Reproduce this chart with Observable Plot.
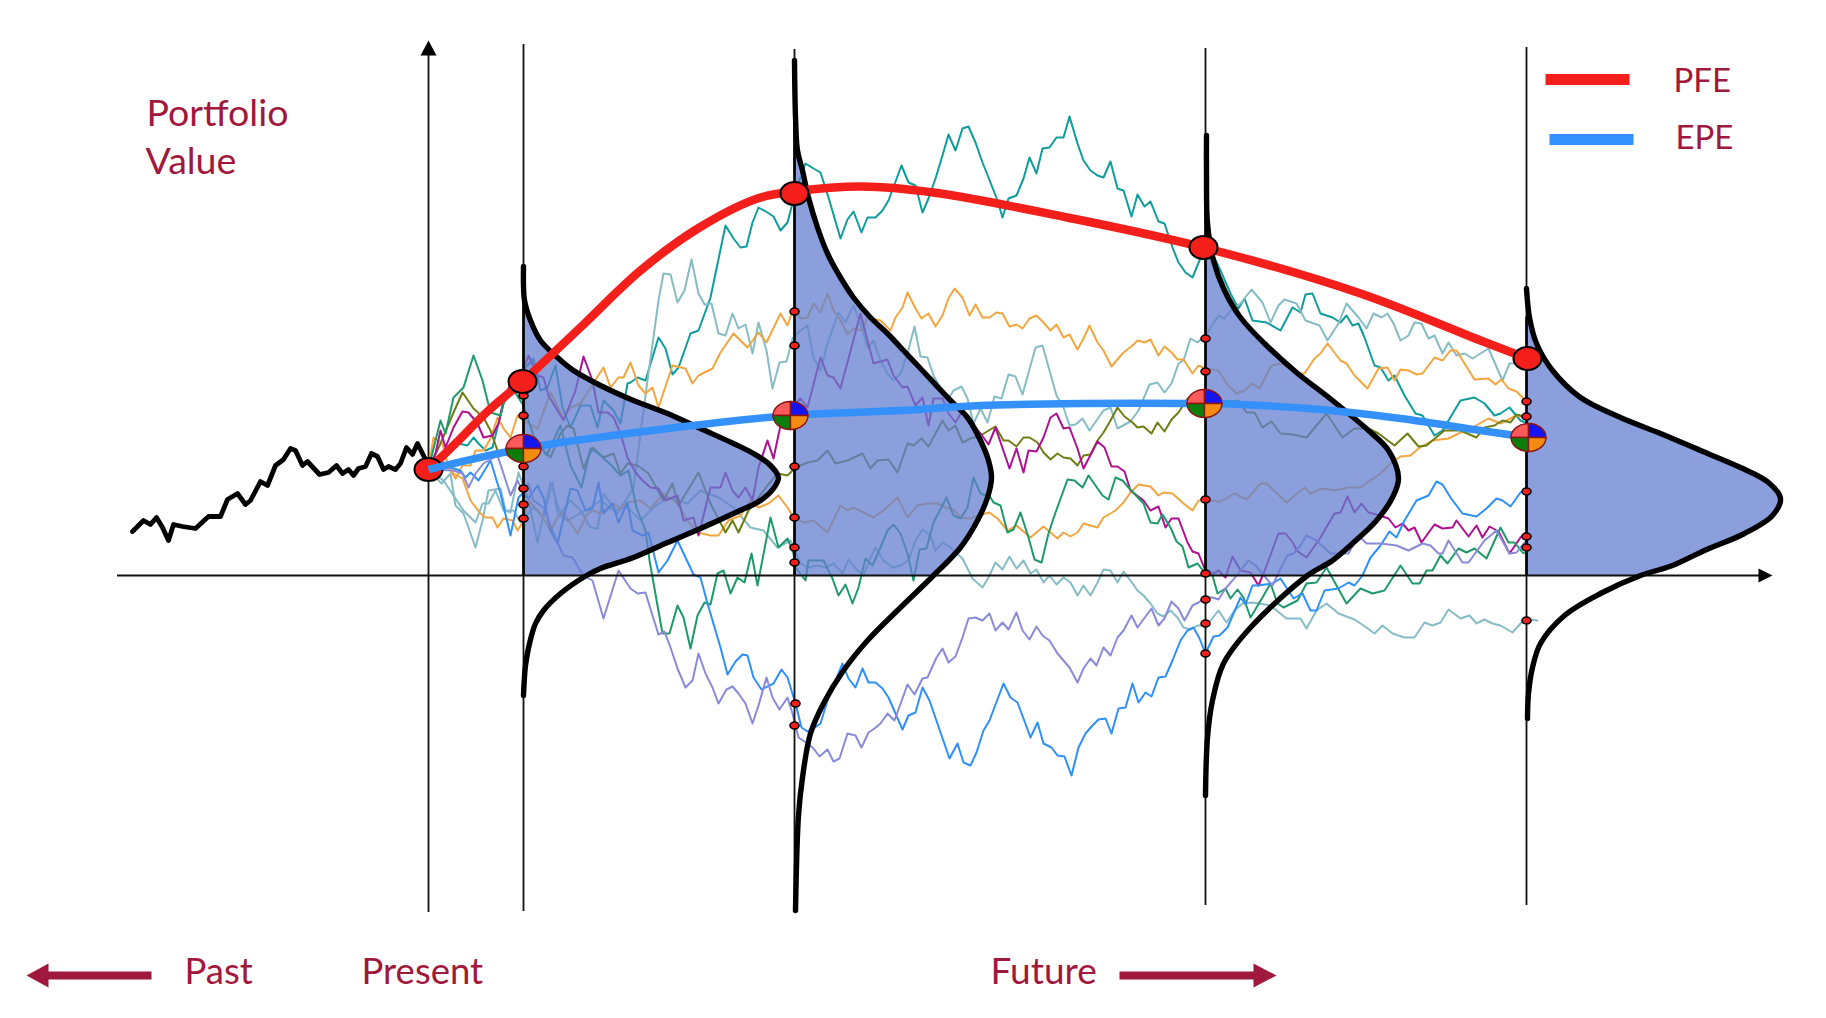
<!DOCTYPE html>
<html><head><meta charset="utf-8">
<script src="https://cdn.jsdelivr.net/npm/d3@7"></script>
<script src="https://cdn.jsdelivr.net/npm/@observablehq/plot@0.6"></script>
<style>html,body{margin:0;padding:0;background:#fff}svg{display:block}</style>
</head><body><div id="chart"></div>
<script>
// every series: flat list of time, value, time, value ...
const past=[-296,44,-285,55,-278,51,-272,58,-266,48,-260,35,-255,51,-246,49,-233,47,-220,59,-208,59,-201,76,-191,82,-183,71,-178,75,-168,94,-161,90,-153,110,-145,116,-138,127,-133,125,-126,110,-121,114,-109,101,-100,103,-92,110,-86,102,-80,106,-75,100,-70,107,-63,109,-57,122,-51,119,-45,106,-40,109,-33,106,-28,112,-22,128,-16,121,-11,132,-3,116,0,106];
const teal=[0,106,22,123,30,132,39,130,45,138,50,132,57,125,64,128,70,152,75,172,90,200,105,217,112,185,119,188,127,210,134,168,142,148,152,170,162,170,169,148,175,175,185,165,192,152,199,192,202,193,209,198,217,195,230,238,237,227,244,201,250,208,262,242,270,245,282,278,297,350,305,337,312,328,318,329,324,353,330,368,339,363,345,359,352,345,359,353,364,372,366,382,377,412,385,407,392,403,400,378,412,337,419,356,425,364,433,343,439,358,447,358,454,365,460,375,473,410,480,393,487,390,494,363,500,377,507,397,514,420,520,441,527,425,534,447,540,449,547,433,554,413,560,398,569,375,574,358,580,377,588,380,595,397,601,418,608,402,614,427,621,428,628,438,635,438,641,459,649,432,655,415,662,405,669,400,675,398,682,414,689,387,695,385,703,359,709,381,716,369,722,374,730,354,736,352,744,328,750,313,757,303,764,298,771,315,780,330,792,305,802,282,810,267,816,277,824,255,838,253,852,245,864,268,872,263,877,281,884,282,892,262,904,258,912,253,918,260,924,250,930,252,936,238,946,210,952,208,960,195,966,200,976,180,987,162,994,160,1006,140,1014,145,1020,155,1032,175,1046,178,1056,172,1066,160,1072,162,1081,168,1092,155,1099,152];
const lightTealA=[0,106,13,92,22,102,27,70,35,62,47,28,54,55,60,85,72,87,77,65,82,63,90,103,100,75,109,33,122,93,132,62,142,75,152,65,162,48,169,47,175,82,189,62,205,88,219,195,230,275,235,302,242,301,249,273,256,285,263,316,270,282,276,271,283,272,290,242,297,240,304,262,310,247,317,251,324,222,330,253,338,225,344,187,351,213,358,214,364,237,372,245,379,250,385,218,392,205,399,232,410,263,417,253,425,270,432,252,439,228,445,235,452,215,459,202,465,195,472,202,479,222,486,249,492,219,499,218,505,200,519,175,525,185,533,189,539,177,545,152,552,167,559,153,566,179,573,177,580,201,587,199,594,181,607,228,614,230,628,180,635,168,641,150,647,151,654,157,661,145,675,165,682,168,689,147,702,154,710,165,721,191,729,193,736,183,743,192,750,212,755,215,762,237,769,233,777,240,790,260,796,257,802,265,812,272,823,286,834,273,842,253,850,270,856,276,868,272,877,255,891,250,899,235,910,252,918,272,930,258,938,247,945,262,953,258,959,262,965,252,972,235,980,240,986,253,993,252,1000,237,1006,240,1014,222,1020,233,1028,220,1036,222,1044,217,1060,227,1074,195,1081,212,1092,212,1099,208];
const lightTealB=[0,106,15,95,25,80,35,65,47,53,54,72,60,72,67,85,75,65,85,65,92,53,105,68,115,58,124,93,129,62,139,55,162,68,172,75,185,65,199,68,212,55,225,68,239,78,259,72,272,85,290,78,305,68,322,48,335,45,349,28,362,35,372,12,379,8,389,10,397,8,405,12,414,2,420,16,429,5,435,0,442,18,447,28,455,15,464,8,472,10,480,15,487,35,494,46,502,40,507,25,514,33,522,28,534,17,544,-3,554,-12,560,-2,567,13,574,6,581,19,588,7,595,15,602,2,608,6,615,-7,621,0,628,-9,635,-2,642,-7,649,-20,655,-10,662,-20,669,-7,675,6,682,5,689,-7,695,4,702,-5,709,-15,715,-20,722,-28,729,-38,735,-41,742,-35,749,-42,755,-52,762,-54,769,-50,778,-50,790,-35,798,-47,806,-35,814,-28,824,-27,842,-30,858,-43,872,-43,878,-53,888,-35,898,-28,910,-38,926,-44,938,-52,946,-58,954,-50,964,-58,976,-62,986,-62,996,-47,1004,-50,1012,-47,1020,-34,1032,-43,1041,-40,1048,-48,1056,-44,1064,-48,1072,-50,1084,-57,1092,-48,1100,-44,1109,-45];
const orangeA=[0,106,5,138,14,132,20,108,27,97,34,110,42,110,47,125,55,125,62,137,69,158,75,147,82,138,89,160,95,155,109,147,122,183,135,157,142,168,152,172,162,188,175,208,182,188,190,198,195,198,202,213,210,190,217,182,224,188,230,168,244,210,257,207,264,192,270,200,284,207,292,223,305,242,319,228,330,243,338,233,352,262,359,250,365,268,372,257,379,258,385,272,392,263,399,282,405,265,412,255,419,241,425,247,434,245,439,258,452,255,462,245,467,258,474,268,479,283,487,267,493,257,500,262,507,249,514,260,520,277,526,287,534,278,541,260,547,271,554,258,561,258,568,263,574,262,581,249,588,251,594,247,601,257,608,260,614,254,622,245,628,251,635,238,641,241,649,226,655,237,661,250,669,233,675,225,683,209,694,222,705,231,709,235,716,233,722,236,730,220,736,229,743,223,749,216,755,216,764,202,770,210,777,207,790,205,798,192,808,182,816,185,824,192,831,187,843,210,852,212,868,202,876,202,886,217,892,222,899,232,912,215,918,212,926,200,939,187,950,207,959,208,966,195,972,206,980,205,988,201,994,202,1006,218,1014,215,1022,225,1028,225,1036,212,1046,196,1060,197,1067,191,1073,196,1080,187,1088,184,1097,175];
const orangeB=[0,106,9,113,17,112,25,102,34,97,42,75,52,62,57,58,64,58,69,48,75,57,84,55,89,45,94,53,100,75,112,62,122,45,129,58,135,63,149,42,159,62,165,65,172,62,185,72,192,67,199,73,212,75,222,67,235,82,249,72,259,55,269,43,282,40,290,40,300,55,312,60,322,75,330,68,340,72,350,80,359,68,365,58,375,53,385,55,399,43,412,70,419,65,425,68,445,58,455,65,469,78,479,58,489,70,499,72,509,72,517,68,525,66,532,58,542,57,549,60,561,63,569,57,579,45,588,50,602,38,615,49,629,37,635,43,642,39,649,43,655,52,669,48,675,58,687,65,695,73,702,83,710,91,722,89,730,80,735,83,744,82,755,72,764,65,770,75,780,75,792,74,806,82,818,76,832,92,838,92,858,73,876,88,882,82,894,87,906,85,920,88,932,88,952,102,962,112,972,119,982,120,990,127,1004,135,1020,137,1032,143,1044,148,1060,157,1072,152,1088,160,1099,158];
const olive=[0,106,12,132,25,163,34,183,45,167,55,158,62,145,69,125,74,122,84,118,94,122,112,128,122,118,132,142,139,150,145,147,155,107,164,128,175,118,185,122,192,102,199,112,209,110,220,102,235,75,244,92,250,70,270,103,282,72,297,43,304,55,310,43,320,65,339,90,349,102,359,100,367,108,379,113,389,115,399,125,407,112,419,115,434,122,442,107,449,115,460,116,469,103,479,132,485,130,493,137,500,129,514,155,520,145,527,150,534,133,542,137,552,140,567,149,575,135,580,135,588,129,595,138,601,138,609,133,615,123,622,116,629,122,635,118,642,117,649,110,655,120,662,121,669,135,675,143,682,155,689,168,696,159,704,153,709,148,715,149,723,142,729,153,736,144,743,156,750,163,759,177,778,177,792,173,810,175,818,163,826,163,834,148,843,154,852,142,864,141,878,138,898,162,914,138,926,147,940,147,950,142,966,130,979,142,990,129,998,130,1016,145,1032,145,1048,138,1056,148,1066,150,1074,155,1082,153,1088,161,1099,158];
const magenta=[0,106,7,122,12,145,17,128,25,148,34,164,40,163,49,152,55,138,64,140,70,152,75,175,82,192,92,198,100,220,109,200,115,198,120,180,135,155,147,185,155,219,164,195,170,163,179,163,185,158,192,142,199,118,207,103,214,95,222,88,230,87,237,75,249,80,255,55,265,58,270,40,282,88,292,88,297,103,304,85,310,78,317,88,324,75,330,108,339,135,345,117,352,150,362,165,372,177,379,168,392,218,399,200,405,198,412,187,432,262,439,235,445,212,459,216,465,200,474,188,479,189,487,170,494,178,500,150,505,177,514,177,520,162,527,153,534,165,552,142,560,131,567,148,581,107,588,127,595,103,600,125,608,124,615,138,622,158,628,162,635,147,641,148,649,127,655,107,669,134,676,128,683,109,689,109,696,104,702,85,715,75,722,65,730,69,737,48,743,57,750,57,759,33,764,24,770,22,776,7,785,2,790,5,797,-2,804,19,812,5,822,3,830,-10,837,7,850,42,857,42,865,32,868,25,878,18,892,38,906,62,912,63,919,79,926,63,933,72,940,63,948,61,960,57,967,48,974,52,980,45,986,48,993,33,1006,51,1014,47,1024,48,1028,55,1040,39,1048,50,1054,38,1061,49,1070,44,1081,22,1092,38,1096,42];
const green=[0,106,7,135,12,155,17,142,25,178,35,188,45,220,54,195,62,163,72,160,75,172,84,187,95,170,105,140,118,120,132,150,142,110,153,88,162,127,172,120,183,110,192,100,200,105,208,68,217,45,221,15,234,-58,241,-58,249,-30,255,-42,262,-73,269,-40,276,-27,282,-29,289,2,295,5,302,-18,309,-2,316,-7,323,22,329,-10,342,58,350,28,359,37,365,22,367,8,377,-5,380,15,395,15,404,-3,410,-20,417,-9,424,-28,430,-12,437,17,444,10,452,28,459,45,465,51,472,42,479,22,485,-5,491,26,498,27,505,53,518,78,525,60,532,57,539,68,545,98,552,82,562,78,565,73,572,70,579,43,585,46,592,63,600,38,606,16,613,13,620,42,627,63,639,96,646,95,654,88,660,100,674,80,680,76,687,98,694,95,700,88,715,72,722,53,729,52,734,61,742,48,748,34,754,29,760,8,769,12,776,3,784,0,789,-18,797,-13,802,-23,809,-14,815,-22,822,-42,834,-22,842,-8,849,-28,855,-32,869,-25,878,-8,888,-7,898,8,918,-28,932,-13,944,-18,956,-15,972,10,984,-8,991,-8,998,5,1004,5,1012,20,1019,12,1030,27,1038,23,1046,27,1058,17,1072,48,1080,33,1086,33,1094,23,1099,22];
const blue=[0,106,12,115,22,108,32,105,37,98,42,103,50,95,62,115,72,82,82,40,90,78,94,82,100,77,109,90,115,78,122,45,129,32,142,87,149,85,157,65,164,67,170,93,175,62,184,72,190,53,199,73,204,45,214,40,220,43,230,3,239,15,249,35,265,1,272,-2,279,-28,292,-72,299,-99,307,-86,314,-79,319,-80,325,-102,333,-114,345,-108,353,-94,359,-102,367,-128,373,-152,379,-156,385,-153,392,-148,399,-125,407,-105,414,-88,420,-103,427,-112,434,-93,440,-107,447,-107,454,-113,460,-122,474,-154,480,-140,487,-137,494,-112,501,-125,521,-183,529,-168,535,-187,542,-190,548,-177,555,-155,561,-145,575,-108,582,-122,589,-127,595,-143,602,-162,609,-147,615,-168,623,-172,629,-180,636,-181,643,-200,650,-172,657,-158,664,-150,670,-144,677,-143,683,-158,690,-133,697,-132,704,-108,710,-127,717,-117,723,-121,730,-102,737,-101,744,-85,752,-65,759,-55,765,-52,771,-63,777,-78,785,-61,791,-60,799,-52,812,-22,817,-29,824,-10,830,-10,844,-8,852,-3,865,-23,874,-18,882,-35,888,-35,896,-15,910,-13,920,-7,926,-10,934,0,942,18,952,30,961,44,968,38,976,55,988,75,1000,80,1008,94,1014,91,1022,78,1034,62,1048,59,1058,67,1068,77,1074,75,1082,69,1092,83,1098,87];
const purple=[0,106,25,105,34,102,40,88,47,102,55,112,69,120,75,102,82,80,89,95,94,85,100,92,105,75,115,68,125,42,135,20,144,18,155,0,164,-5,175,-43,190,5,202,-13,209,-18,217,-17,224,-40,230,-59,236,-56,242,-72,249,-93,257,-112,264,-105,270,-78,277,-98,284,-112,290,-128,298,-114,304,-111,310,-118,317,-128,324,-148,330,-130,338,-102,344,-122,351,-134,359,-122,364,-138,370,-162,379,-168,385,-173,391,-181,399,-174,405,-186,411,-183,419,-158,427,-160,433,-172,440,-157,446,-153,452,-148,459,-138,466,-145,479,-109,486,-119,494,-103,499,-102,508,-82,514,-73,520,-87,527,-81,534,-62,540,-43,547,-42,554,-45,561,-38,567,-55,574,-47,580,-54,588,-37,594,-55,601,-64,608,-51,614,-60,621,-65,629,-78,635,-85,641,-92,649,-107,655,-93,662,-83,668,-90,675,-72,682,-80,689,-62,695,-55,703,-40,709,-52,723,-33,730,-50,736,-43,743,-26,750,-33,756,-45,764,-30,770,-27,777,-22,784,-22,790,-24,797,-13,804,-5,812,5,820,15,827,10,837,-2,844,-10,852,7,859,20,865,22,872,30,878,40,888,35,902,22,920,22,930,40,938,32,952,32,968,30,980,25,994,32,1002,30,1010,22,1014,22,1020,35,1034,13,1040,13,1056,35,1068,45,1081,22,1088,23,1096,33,1099,28];
const simColors=["#0f9c9c","#86bcc5","#86bcc5","#f1a63f","#f1a63f","#6f7d12","#ae1090","#1e9a6a","#2e90f8","#8a8ad8"];
const sims=[teal,lightTealA,lightTealB,orangeA,orangeB,olive,magenta,green,blue,purple];

const distStarts=[95,366,777,1098];
const dist1=[95,309,95,290,96,275,102,255,112,235,129,218,145,205,172,190,205,175,239,162,272,147,305,132,325,122,342,110,350,98,345,87,332,75,305,62,272,47,239,33,205,18,172,7,158,0,132,-18,115,-35,107,-48,101,-68,97,-90,95,-120];
const dist2=[366,515,367,459,369,425,374,405,380,378,389,348,399,322,412,298,425,278,442,258,459,242,475,225,492,207,522,175,539,158,552,135,560,115,563,98,559,78,549,55,532,28,505,0,472,-32,439,-65,415,-95,395,-128,382,-158,374,-202,370,-240,367,-335];
const dist3=[778,440,778,402,779,352,785,315,796,285,812,258,836,232,868,203,904,175,940,145,960,125,970,97,964,78,948,55,924,32,904,15,879,0,822,-52,795,-88,784,-125,779,-162,777,-220];
const dist4=[1098,287,1101,258,1108,232,1124,205,1152,178,1192,158,1232,142,1272,125,1312,108,1340,93,1352,77,1344,60,1316,42,1276,25,1244,10,1212,0,1172,-18,1136,-40,1112,-68,1104,-92,1100,-118,1099,-143];
const dists=[dist1,dist2,dist3,dist4];

const guideTimes=[0,95,366,777,1098];
const guideTops=[522,531,526,527,528];
const guideBottoms=[-337,-336,-337,-330,-330];

const pfe=[0,106,30,135,60,165,94,194,119,217,154,250,212,305,271,348,329,377,366,384,434,389,505,383,639,358,775,328,932,282,1052,235,1099,217];
const epe=[0,106,95,127,239,147,362,160,472,165,552,170,652,172,759,172,812,171,892,166,972,157,1052,145,1100,138];
const pfeMarks=[0,106,94,194,366,382,775,328,1099,217];
const epeMarks=[95,127,362,160,776,172,1100,138];
const simDots=[95,180,95,160,95,109,95,87,95,71,95,57,
 366,264,366,230,366,109,366,58,366,28,366,13,367,-128,366,-150,
 777,237,777,204,777,76,777,2,777,-24,777,-48,777,-78,
 1098,174,1098,159,1098,84,1098,39,1098,28,1098,-45];

const darkRed="#a0183c";
const labels=[
 {t:-282,v:450,text:"Portfolio",size:37.5},{t:-283,v:402,text:"Value",size:37.5},
 {t:1245,v:484,text:"PFE",size:33},{t:1247,v:427,text:"EPE",size:33},
 {t:-244,v:-408,text:"Past",size:36.5},{t:-67,v:-408,text:"Present",size:36.5},{t:562,v:-408,text:"Future",size:37}
];
const legendPfe=[1117,496,1201,496];
const legendEpe=[1121,436,1205,436];
const pastArrow=[-277,-400,-385,-400];
const futureArrow=[691,-400,830,-400];

const rows=a=>d3.range(0,a.length,2).map(i=>({t:a[i],v:a[i+1]}));

// symbols drawn with the library's dot mark
const K=0.5523;
const ellipse=(rx,ry)=>({draw(c){c.moveTo(rx,0);c.bezierCurveTo(rx,ry*K,rx*K,ry,0,ry);c.bezierCurveTo(-rx*K,ry,-rx,ry*K,-rx,0);c.bezierCurveTo(-rx,-ry*K,-rx*K,-ry,0,-ry);c.bezierCurveTo(rx*K,-ry,rx,-ry*K,rx,0);c.closePath();}});
const quadrant=(sx,sy,rx,ry)=>({draw(c){c.moveTo(0,0);c.lineTo(sx*rx,0);c.bezierCurveTo(sx*rx,sy*ry*K,sx*rx*K,sy*ry,0,sy*ry);c.closePath();}});
const head=(ax,ay,bx,by,cx,cy)=>({draw(c){c.moveTo(ax,ay);c.lineTo(bx,by);c.lineTo(cx,cy);c.closePath();}});

const simMarks=sims.map((s,i)=>Plot.line(rows(s),{x:"t",y:"v",stroke:simColors[i],strokeWidth:2,strokeLinejoin:"round"}));
const fillMarks=dists.map((d,i)=>Plot.areaX(rows(d).filter(p=>p.v>=0),{x1:()=>distStarts[i],x2:"t",y:"v",fill:"#637fcf",fillOpacity:0.75,curve:"catmull-rom"}));
const edgeMarks=dists.map((d,i)=>{const r=rows(d).filter(p=>p.v>=0);return Plot.ruleX([distStarts[i]],{y1:0,y2:r[0].v*0.9,stroke:"#000",strokeWidth:2.6});});
const curveMarks=dists.map(d=>Plot.line(rows(d),{x:"t",y:"v",stroke:"#000",strokeWidth:5.4,curve:"catmull-rom"}));
const guideMarks=guideTimes.map((t,i)=>Plot.ruleX([t],{y1:guideTops[i],y2:guideBottoms[i],stroke:"#111",strokeWidth:1.8}));
const quads=[[-1,-1,"#fb5a5a"],[1,-1,"#1414f4"],[-1,1,"#0a7d0a"],[1,1,"#f48c14"]];
const epeDots=quads.map(([sx,sy,col])=>Plot.dot(rows(epeMarks),{x:"t",y:"v",r:3,symbol:quadrant(sx,sy,17.5,14),fill:col,stroke:"#8b1414",strokeWidth:1.4}));

const chart=Plot.plot({
 width:1826,height:1018,margin:0,
 x:{domain:[-428,1398],range:[0,1826],axis:null},
 y:{domain:[-443,575],range:[1018,0],axis:null},
 style:{background:"#fff"},
 marks:[
  ...simMarks,
  ...fillMarks,
  ...guideMarks,
  ...edgeMarks,
  Plot.ruleY([0],{x1:-311,x2:1332,stroke:"#111",strokeWidth:2}),
  Plot.dot([{t:0,v:535}],{x:"t",y:"v",r:3,symbol:head(0,0,-8,15,8,15),fill:"#000"}),
  Plot.dot([{t:1344,v:0}],{x:"t",y:"v",r:3,symbol:head(0,0,-14,-7,-14,7),fill:"#000"}),
  Plot.line(rows(past),{x:"t",y:"v",stroke:"#000",strokeWidth:4.8,strokeLinejoin:"round"}),
  ...curveMarks,
  Plot.line(rows(pfe),{x:"t",y:"v",stroke:"#f41e1a",strokeWidth:8.5,curve:"catmull-rom",strokeLinecap:"butt"}),
  Plot.dot(rows(simDots),{x:"t",y:"v",r:3,symbol:ellipse(4.5,3.5),fill:"#f41e1a",stroke:"#000",strokeWidth:1.6}),
  Plot.dot(rows(pfeMarks),{x:"t",y:"v",r:3,symbol:ellipse(14,11.5),fill:"#f41e1a",stroke:"#000",strokeWidth:2}),
  Plot.line(rows(epe),{x:"t",y:"v",stroke:"#3490fb",strokeWidth:7.5,curve:"catmull-rom",strokeLinecap:"butt"}),
  ...epeDots,
  Plot.line(rows(legendPfe),{x:"t",y:"v",stroke:"#f41e1a",strokeWidth:11,strokeLinecap:"butt"}),
  Plot.line(rows(legendEpe),{x:"t",y:"v",stroke:"#3490fb",strokeWidth:11,strokeLinecap:"butt"}),
  Plot.line(rows(pastArrow),{x:"t",y:"v",stroke:darkRed,strokeWidth:8,strokeLinecap:"butt"}),
  Plot.line(rows(futureArrow),{x:"t",y:"v",stroke:darkRed,strokeWidth:8,strokeLinecap:"butt"}),
  Plot.dot([{t:-402,v:-400}],{x:"t",y:"v",r:3,symbol:head(0,0,22,-12,22,12),fill:darkRed}),
  Plot.dot([{t:848,v:-400}],{x:"t",y:"v",r:3,symbol:head(0,0,-23,-12,-23,12),fill:darkRed}),
  ...labels.map(l=>Plot.text([l],{x:"t",y:"v",text:"text",textAnchor:"start",lineAnchor:"bottom",fill:darkRed,fontFamily:"Lato",fontSize:l.size}))
 ]
});
document.getElementById("chart").append(chart);
</script></body></html>
